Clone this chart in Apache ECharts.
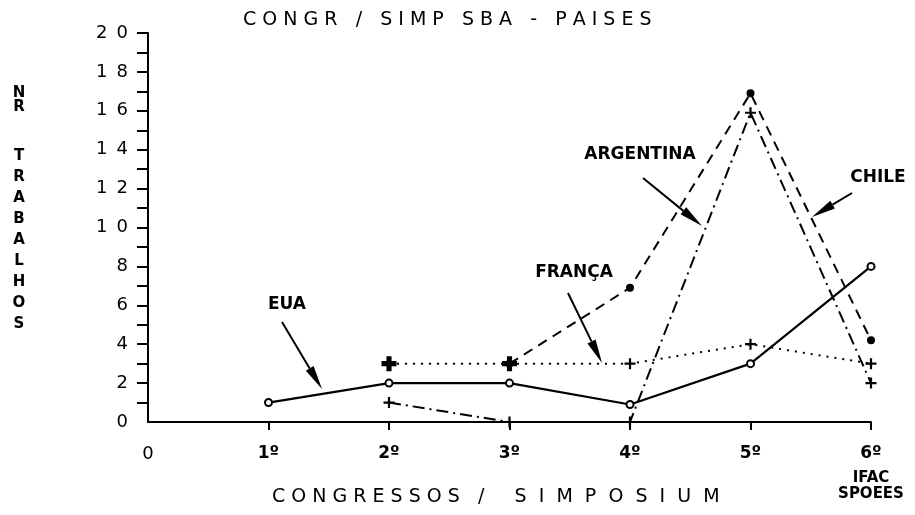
<!DOCTYPE html>
<html>
<head>
<meta charset="utf-8">
<script src="https://cdn.jsdelivr.net/npm/echarts@6/dist/echarts.min.js"></script>
<style>
html,body{margin:0;padding:0;background:#fff;}
#chart{width:915px;height:515px;}
</style>
</head>
<body>
<div id="chart"></div>
<script>
// ---- data ----
const xValues = [1, 2, 3, 4, 5, 6];
const xTickLabels = ['0', '1º', '2º', '3º', '4º', '5º', '6º'];
const yTickValues = [0, 2, 4, 6, 8, 10, 12, 14, 16, 18, 20];
const euaValues = [1, 2, 2, 0.9, 3, 8];
const francaValues = [null, 3, 3, 3, 4, 3];
const argentinaValues = [null, null, 3, 6.9, 16.9, 4.2];
const chileValues = [null, 1, 0, 0, 15.9, 2];
const titleText = 'CONGR / SIMP SBA - PAISES';
const xAxisNameLeft = 'CONGRESSOS';
const xAxisNameRight = 'SIMPOSIUM';
const yAxisNameTop = 'NR';
const yAxisNameBottom = 'TRABALHOS';
const sixthNote = ['IFAC', 'SPOEES'];

// ---- helpers ----
function spaced(s) {
  return s.split(' ').map(w => w.split('').join(' ')).join('   ');
}
function pairs(vals) {
  const out = [];
  vals.forEach((v, i) => { if (v !== null) out.push([xValues[i], v]); });
  return out;
}
const plusPath = 'path://M4,0h2v4h4v2h-4v4h-2v-4h-4v-2h4z';
const boldPlusPath = 'path://M3.3,0h3.4v3.3h3.3v3.4h-3.3v3.3h-3.4v-3.3h-3.3v-3.4h3.3z';

function arrow(x1, y1, x2, y2) {
  const dx = x2 - x1, dy = y2 - y1;
  const L = Math.sqrt(dx * dx + dy * dy);
  const ux = dx / L, uy = dy / L;
  const hl = 24, hw = 4.5;
  const bx = x2 - ux * hl, by = y2 - uy * hl;
  return [
    { type: 'line', shape: { x1: x1, y1: y1, x2: bx, y2: by }, style: { stroke: '#000', lineWidth: 2 } },
    { type: 'polygon', shape: { points: [[x2, y2], [bx - uy * hw, by + ux * hw], [bx + uy * hw, by - ux * hw]] }, style: { fill: '#000' } }
  ];
}
function label(text, x, y) {
  return { type: 'text', style: { text: text, x: x, y: y, textAlign: 'center', textVerticalAlign: 'middle', font: 'bold 17px "DejaVu Sans"', fill: '#000' } };
}

const chart = echarts.init(document.getElementById('chart'));

const francaData = pairs(francaValues).map(p => {
  if (p[0] === 2 || p[0] === 3) return { value: p, symbol: boldPlusPath, symbolSize: 15 };
  return { value: p };
});

const xNameText = xAxisNameLeft.split('').join(' ') + '   /     ' + xAxisNameRight.split('').join('  ');

const graphics = [
  { type: 'text', style: { text: spaced(titleText), x: 243, y: 20, textVerticalAlign: 'middle', font: '19px "DejaVu Sans"', fill: '#000' } },
  { type: 'text', style: { text: xNameText, x: 272, y: 497, textVerticalAlign: 'middle', font: '19px "DejaVu Sans"', fill: '#000' } },
  { type: 'text', style: { text: yAxisNameTop.split('').join('\n'), x: 19, y: 86, textAlign: 'center', font: 'bold 15px "DejaVu Sans"', lineHeight: 14, fill: '#000' } },
  { type: 'text', style: { text: yAxisNameBottom.split('').join('\n'), x: 19, y: 146, textAlign: 'center', font: 'bold 15px "DejaVu Sans"', lineHeight: 21, fill: '#000' } },
  { type: 'text', style: { text: sixthNote.join('\n'), x: 871, y: 470, textAlign: 'center', font: 'bold 15px "DejaVu Sans"', lineHeight: 16, fill: '#000' } },
  label('EUA', 287, 305),
  label('FRANÇA', 574, 273),
  label('ARGENTINA', 640, 155),
  label('CHILE', 878, 178)
].concat(arrow(282, 322, 322, 389))
 .concat(arrow(568, 293, 602, 363))
 .concat(arrow(643, 178, 702, 226))
 .concat(arrow(852, 193, 812, 217));

chart.setOption({
  animation: false,
  backgroundColor: '#fff',
  grid: { left: 148, right: 44, top: 33, bottom: 93, containLabel: false },
  xAxis: {
    type: 'value', min: 0, max: 6, interval: 1,
    splitLine: { show: false },
    axisLine: { show: true, lineStyle: { color: '#000', width: 2 } },
    axisTick: { show: true, length: 8, customValues: [1, 2, 3, 4, 5, 6], lineStyle: { color: '#000', width: 2 } },
    axisLabel: {
      margin: 23,
      customValues: [0, 1, 2, 3, 4, 5, 6],
      formatter: v => v === 0 ? '{n|0}' : '{b|' + xTickLabels[v] + '}',
      rich: {
        n: { fontFamily: 'DejaVu Sans', fontSize: 18, color: '#000' },
        b: { fontFamily: 'DejaVu Sans', fontSize: 17, fontWeight: 'bold', color: '#000' }
      }
    }
  },
  yAxis: {
    type: 'value', min: 0, max: 20, interval: 2,
    splitLine: { show: false },
    axisLine: { show: true, lineStyle: { color: '#000', width: 2 } },
    axisTick: { show: true, length: 11, customValues: Array.from({ length: 20 }, (_, i) => i + 1), lineStyle: { color: '#000', width: 2 } },
    axisLabel: {
      margin: 20,
      customValues: yTickValues,
      formatter: v => String(v).split('').join('\u2002'),
      color: '#000', fontFamily: 'DejaVu Sans', fontSize: 18
    }
  },
  series: [
    {
      name: 'EUA', type: 'line', data: pairs(euaValues),
      symbol: 'emptyCircle', symbolSize: 7, z: 5,
      lineStyle: { color: '#000', width: 2.2, type: 'solid' },
      itemStyle: { color: '#000', borderColor: '#000', borderWidth: 1.8 }
    },
    {
      name: 'FRANÇA', type: 'line', data: francaData,
      symbol: plusPath, symbolSize: 11,
      lineStyle: { color: '#000', width: 2, type: [2, 6] },
      itemStyle: { color: '#000' }
    },
    {
      name: 'ARGENTINA', type: 'line', data: pairs(argentinaValues),
      symbol: 'circle', symbolSize: 8,
      lineStyle: { color: '#000', width: 2, type: [10, 7] },
      itemStyle: { color: '#000' }
    },
    {
      name: 'CHILE', type: 'line', data: pairs(chileValues),
      symbol: plusPath, symbolSize: 11,
      lineStyle: { color: '#000', width: 2, type: [12, 5, 2, 5] },
      itemStyle: { color: '#000' }
    }
  ],
  graphic: graphics
});
</script>
</body>
</html>
